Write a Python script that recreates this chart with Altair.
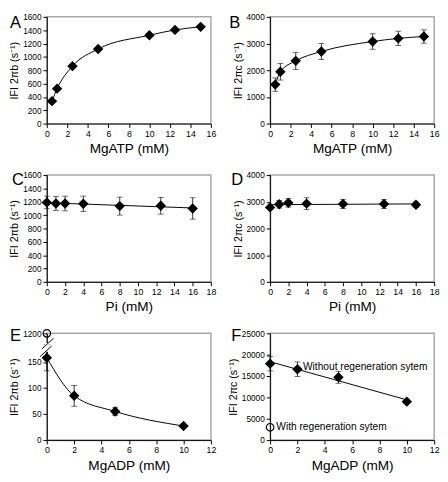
import altair as alt
import pandas as pd

FONT = "Liberation Sans"
W, H = 169, 110

# ---------------- data ----------------
# Panel A
a_x = [0.5, 1, 2.5, 5, 10, 12.5, 15]
a_y = [337, 524, 861, 1118, 1324, 1404, 1450]
# Panel B
b_x = [0.5, 1, 2.5, 5, 10, 12.5, 15]
b_y = [1462, 1942, 2351, 2702, 3076, 3193, 3263]
b_err = [250, 310, 320, 300, 290, 270, 250]
# Panel C
c_x = [0, 1, 2, 4, 8, 12.5, 16]
c_y = [1190, 1175, 1175, 1170, 1135, 1140, 1100]
c_err = [95, 105, 110, 115, 135, 125, 160]
# Panel D
d_x = [0, 1, 2, 4, 8, 12.5, 16]
d_y = [2790, 2905, 2960, 2930, 2920, 2920, 2890]
d_err = [40, 140, 160, 220, 170, 170, 100]
# Panel E
e_x = [0, 2, 5, 10]
e_y = [158, 85, 55, 27]
e_err = [25, 20, 8, 3]
e_open_x = [0]
e_open_y = [1200]
# Panel F
f_x = [0, 2, 5, 10]
f_y = [17900, 16600, 14700, 9000]
f_err = [1700, 1700, 1400, 300]
f_open_x = [0]
f_open_y = [3000]
f_text_x = [2.4, 0.45]
f_text_y = [17150, 2950]
f_text = ["Without regeneration sytem", "With regeneration sytem"]

Y_TITLE_B = "IFI 2\u03c0b (s\u207b\u00b9)"
Y_TITLE_C = "IFI 2\u03c0c (s\u207b\u00b9)"


def panel(letter, xs, ys, errs, xmax, xstep, ymax, ystep, xtitle, ytitle, fit,
          lx, ly=-2, ybreak=False, open_x=None, open_y=None, texts=None):
    df = pd.DataFrame({"x": xs, "y": ys})
    if errs is not None:
        df["lo"] = [v - e for v, e in zip(ys, errs)]
        df["hi"] = [v + e for v, e in zip(ys, errs)]

    xscale = alt.Scale(domain=[0, xmax], nice=False, zero=True)
    if ybreak:
        ydom = [0, 205]
        yvals = [0, 50, 100, 150, 205]
        label_expr = "datum.value > 200 ? '1200' : datum.label"
    else:
        ydom = [0, ymax]
        yvals = list(range(0, ymax + 1, ystep))
        label_expr = "datum.label"
    yscale = alt.Scale(domain=ydom, nice=False, zero=True)
    xaxis = alt.Axis(values=list(range(0, xmax + 1, xstep)), title=xtitle, format="d")
    yaxis = alt.Axis(values=yvals, title=ytitle, labelExpr=label_expr, format="d")

    def X(f="x"):
        return alt.X(f"{f}:Q", scale=xscale, axis=xaxis)

    def Y(f="y"):
        return alt.Y(f"{f}:Q", scale=yscale, axis=yaxis)

    base = alt.Chart(df)
    if fit == "curve":
        line = base.mark_line(interpolate="monotone", color="black",
                              strokeWidth=1).encode(x=X(), y=Y())
    else:
        line = base.transform_regression("x", "y").mark_line(
            color="black", strokeWidth=1).encode(x=X(), y=Y())
    layers = [line]

    if errs is not None:
        layers.append(base.mark_rule(color="black", strokeWidth=0.8).encode(
            x=X(), y=Y("lo"), y2="hi:Q"))
        layers.append(base.mark_tick(color="black", orient="horizontal", size=6,
                                     thickness=0.8).encode(x=X(), y=Y("lo")))
        layers.append(base.mark_tick(color="black", orient="horizontal", size=6,
                                     thickness=0.8).encode(x=X(), y=Y("hi")))

    layers.append(base.mark_point(shape="diamond", filled=True, size=115,
                                  color="black", opacity=1).encode(x=X(), y=Y()))

    if open_x is not None:
        odf = pd.DataFrame({"x": open_x, "y": open_y})
        oc = alt.Chart(odf)
        if ybreak:
            oc = oc.transform_calculate(yp="datum.y > 200 ? 205 : datum.y")
            yo = Y("yp")
        else:
            yo = Y()
        layers.append(oc.mark_point(shape="circle", filled=False, size=60,
                                    color="black", strokeWidth=1.2,
                                    opacity=1).encode(x=X(), y=yo))

    if texts is not None:
        tdf = pd.DataFrame({"x": texts[0], "y": texts[1], "t": texts[2]})
        layers.append(alt.Chart(tdf).mark_text(
            align="left", baseline="middle", fontSize=10.5, font=FONT,
            color="black").encode(x=X(), y=Y(), text="t:N"))

    if ybreak:
        one = pd.DataFrame({"a": [0]})
        layers.append(alt.Chart(one).mark_rule(color="white", strokeWidth=4).encode(
            x=alt.value(0), y=alt.value(10), y2=alt.value(19)))
        for y0, y1, x0, x1 in [(16, 5, -5, 7), (24, 13, -7, 5)]:
            layers.append(alt.Chart(one).mark_rule(color="black", strokeWidth=1).encode(
                x=alt.value(x0), x2=alt.value(x1), y=alt.value(y0), y2=alt.value(y1)))

    ldf = pd.DataFrame({"t": [letter]})
    layers.append(alt.Chart(ldf).mark_text(
        align="left", baseline="top", fontSize=17, font=FONT,
        color="black").encode(text="t:N", x=alt.value(lx), y=alt.value(ly)))

    return alt.layer(*layers).properties(width=W, height=H)


A = panel("A", a_x, a_y, None, 16, 2, 1600, 200, "MgATP (mM)", Y_TITLE_B, "curve", -38)
B = panel("B", b_x, b_y, b_err, 16, 2, 4000, 1000, "MgATP (mM)", Y_TITLE_C, "curve", -42)
C = panel("C", c_x, c_y, c_err, 18, 2, 1600, 200, "Pi (mM)", Y_TITLE_B, "linear", -36, ly=-3)
D = panel("D", d_x, d_y, d_err, 18, 2, 4000, 1000, "Pi (mM)", Y_TITLE_C, "linear", -40, ly=-3)
E = panel("E", e_x, e_y, e_err, 12, 2, 150, 50, "MgADP (mM)", Y_TITLE_B, "curve", -38, ly=-5,
          ybreak=True, open_x=e_open_x, open_y=e_open_y)
F = panel("F", f_x, f_y, f_err, 12, 2, 25000, 5000, "MgADP (mM)", Y_TITLE_C, "linear", -40, ly=-5,
          open_x=f_open_x, open_y=f_open_y, texts=(f_text_x, f_text_y, f_text))

chart = alt.concat(A, B, C, D, E, F, columns=2, spacing={"row": 53, "column": 61},
                   bounds="flush").properties(
    padding={"left": 0, "top": -3, "right": 0, "bottom": 0}
).configure_view(
    stroke="#a8a8a8", strokeWidth=1.5
).configure_axis(
    grid=False, domainColor="black", domainWidth=1, tickColor="black",
    tickSize=4, tickWidth=1, labelFont=FONT, titleFont=FONT,
    labelColor="black", titleColor="black", titleFontWeight="normal",
    labelPadding=2, labelFlush=False, labelOverlap=False
).configure_axisX(
    labelFontSize=9, titleFontSize=14, titlePadding=4
).configure_axisY(
    labelFontSize=8.5, titleFontSize=11, titlePadding=3
)

chart.save("out.html", embed_options={"renderer": "svg", "actions": False})
